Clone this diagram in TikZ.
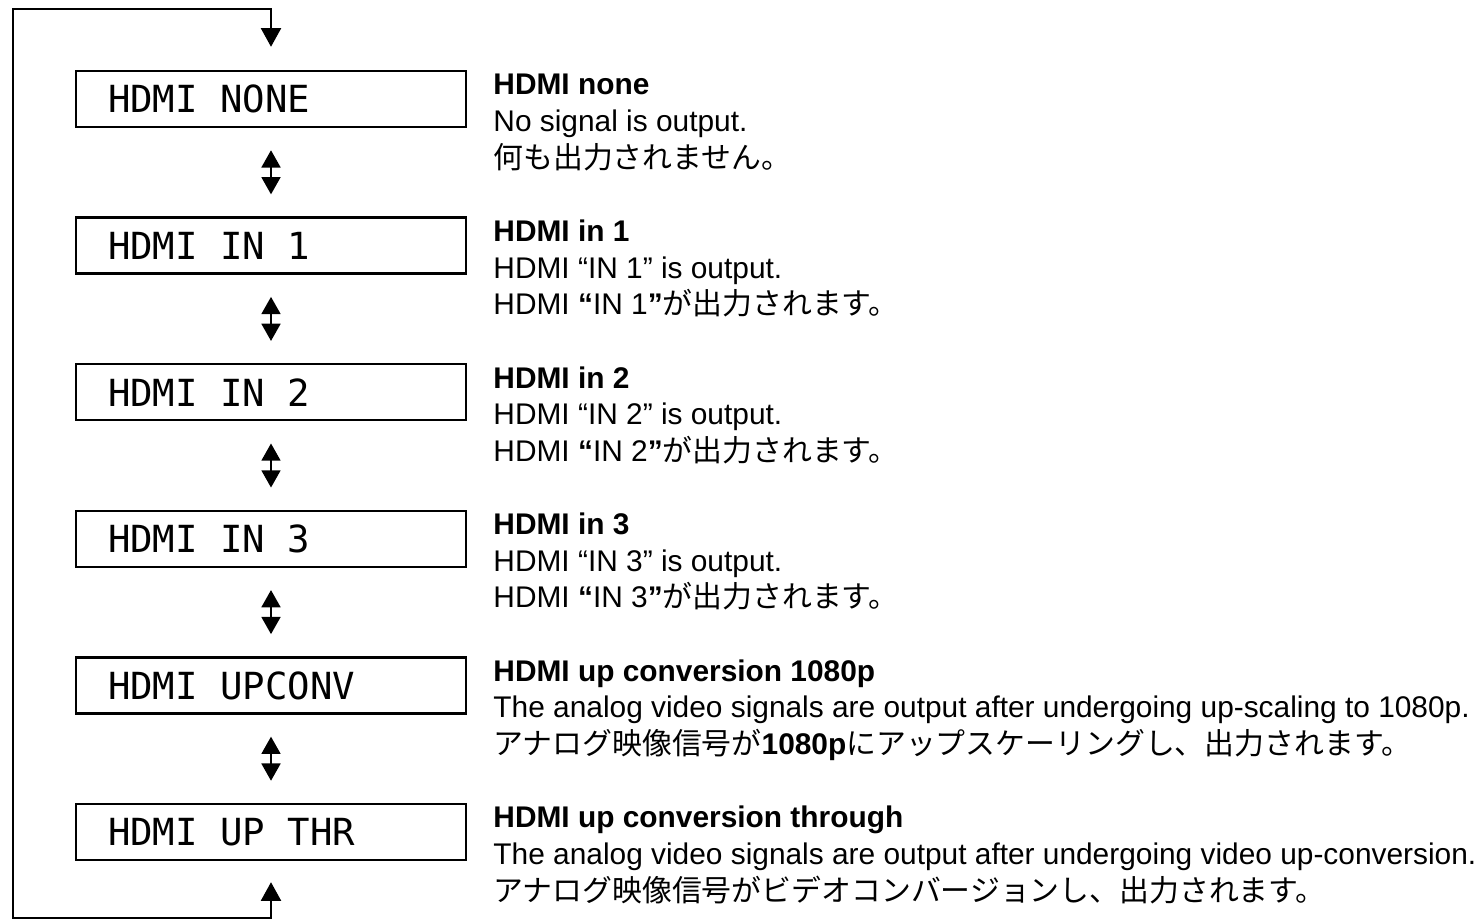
\documentclass[tikz,border=0pt]{standalone}
\usepackage{fontspec}
\setmainfont{Liberation Sans}
\newfontfamily\jpfont{Noto Sans CJK JP}
\newfontfamily\lcdfont{DejaVu Sans Mono}
\newcommand{\lcdsp}{\hspace*{0.602em}}
\usetikzlibrary{arrows.meta,calc}

\begin{document}
\begin{tikzpicture}[x=0.75pt, y=-0.75pt,
  menubox/.style={draw, line width=1.8pt, minimum height=42pt, text width=244.5pt,
    inner xsep=24pt, inner ysep=0pt, align=left, font=\lcdfont\fontsize{28}{30}\selectfont},
  desc/.style={anchor=base west, align=left, inner sep=0pt, font=\fontsize{22.4}{27.4}\selectfont},
  updown/.style={{Triangle[width=14pt,length=13pt]}-{Triangle[width=14pt,length=13pt]},
    line width=2.2pt, shorten <=16.5pt, shorten >=16.5pt},
  loopline/.style={{Triangle[width=15pt,length=14pt]}-{Triangle[width=15pt,length=14pt]}, line width=1.6pt}]
  \useasboundingbox (0,0) rectangle (1484,921);
  % menu boxes
  \foreach \lbl [count=\i] in {HDMI\lcdsp NONE, HDMI\lcdsp IN\lcdsp 1, HDMI\lcdsp IN\lcdsp 2,
      HDMI\lcdsp IN\lcdsp 3, HDMI\lcdsp UPCONV, HDMI\lcdsp UP\lcdsp THR}{
    \node[menubox] (b\i) at (271, {99+(\i-1)*146.6}) {\lbl};
  }
  \foreach \i [evaluate=\i as \j using int(\i+1)] in {1,...,5}{
    \draw[updown] (b\i) -- (b\j);
  }
  % loop back
  \coordinate (lb) at (13,918);
  \coordinate (lt) at (13,9);
  \draw[loopline] ($(b6.south)+(0,21)$) -- (b6.south |- lb) -- (lb) -- (lt) -- (b1.north |- lt) -- ($(b1.north)+(0,-23)$);
  % descriptions (anchored at the last line)
  \node[desc] (d1) at ($(b1.east)+(26,69)$) {\textbf{HDMI none}\\No signal is output.\\{\jpfont 何も出力されません。}};
  \node[desc] (d2) at ($(b2.east)+(26,69)$) {\textbf{HDMI in 1}\\HDMI “IN 1” is output.\\HDMI \textbf{“}IN 1\textbf{”}{\jpfont が出力されます。}};
  \node[desc] (d3) at ($(b3.east)+(26,69)$) {\textbf{HDMI in 2}\\HDMI “IN 2” is output.\\HDMI \textbf{“}IN 2\textbf{”}{\jpfont が出力されます。}};
  \node[desc] (d4) at ($(b4.east)+(26,69)$) {\textbf{HDMI in 3}\\HDMI “IN 3” is output.\\HDMI \textbf{“}IN 3\textbf{”}{\jpfont が出力されます。}};
  \node[desc] (d5) at ($(b5.east)+(26,69)$) {\textbf{HDMI up conversion 1080p}\\The analog video signals are output after undergoing up-scaling to 1080p.\\{\jpfont アナログ映像信号が}\textbf{1080p}{\jpfont にアップスケーリングし、出力されます。}};
  \node[desc] (d6) at ($(b6.east)+(26,69)$) {\textbf{HDMI up conversion through}\\The analog video signals are output after undergoing video up-conversion.\\{\jpfont アナログ映像信号がビデオコンバージョンし、出力されます。}};
\end{tikzpicture}
\end{document}
